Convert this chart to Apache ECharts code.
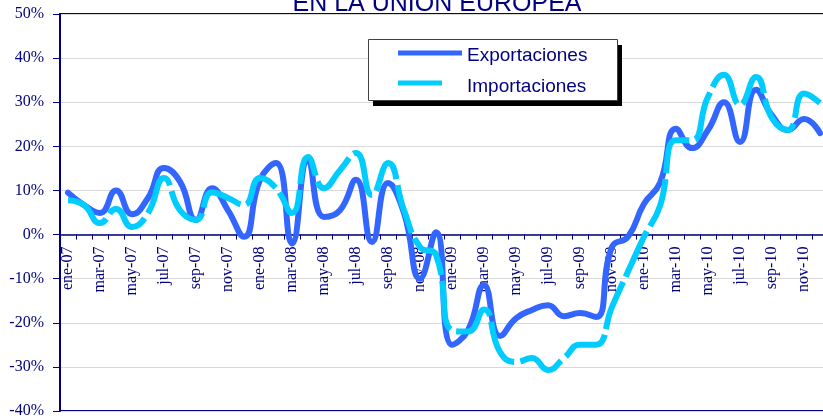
<!DOCTYPE html>
<html>
<head>
<meta charset="utf-8">
<script src="https://cdn.jsdelivr.net/npm/echarts@6/dist/echarts.min.js"></script>
<style>
html,body{margin:0;padding:0;background:#fff;}
#chart{width:823px;height:420px;}
</style>
</head>
<body>
<div id="chart"></div>
<script>
const categories = [
  'ene-07','feb-07','mar-07','abr-07','may-07','jun-07','jul-07','ago-07','sep-07','oct-07','nov-07','dic-07',
  'ene-08','feb-08','mar-08','abr-08','may-08','jun-08','jul-08','ago-08','sep-08','oct-08','nov-08','dic-08',
  'ene-09','feb-09','mar-09','abr-09','may-09','jun-09','jul-09','ago-09','sep-09','oct-09','nov-09','dic-09',
  'ene-10','feb-10','mar-10','abr-10','may-10','jun-10','jul-10','ago-10','sep-10','oct-10','nov-10','dic-10'
];
const exportaciones = [
  9.5, 6.7, 4.9, 10.0, 4.6, 8.3, 15.1, 12.0, 3.3, 10.5, 5.5, -0.5,
  12.4, 16.2, -2.0, 16.9, 4.0, 5.5, 12.4, -1.7, 11.7, 4.9, -10.0, 0.5,
  -25.0, -21.7, -11.5, -23.0, -19.0, -17.1, -16.0, -18.5, -17.8, -18.7, -2.8, -0.5,
  7.0, 11.7, 24.0, 19.6, 23.7, 30.0, 21.0, 32.8, 27.0, 23.7, 26.2, 23.0
];
const importaciones = [
  7.8, 6.7, 2.6, 5.8, 1.7, 4.9, 12.8, 5.5, 3.3, 9.6, 8.3, 6.7,
  12.8, 10.5, 4.9, 17.6, 10.5, 14.6, 18.5, 9.0, 16.2, 5.5, -2.8, -4.6,
  -21.7, -22.0, -17.0, -26.6, -28.9, -28.0, -30.7, -28.0, -25.0, -25.0, -16.4, -8.4,
  -0.5, 6.5, 21.4, 21.4, 31.2, 36.2, 29.4, 35.7, 26.4, 23.7, 32.0, 29.8
];
const yTicks = { min: -40, max: 50, interval: 10 };
const seriesNames = ['Exportaciones', 'Importaciones'];
const titleText = 'EN LA UNIÓN EUROPEA';

const navy = '#000080';
const blue = '#3366FF';
const cyan = '#00CCFF';

const gridTop = 14, gridHeight = 397;
const zeroOffset = -gridHeight * (0 - yTicks.min) / (yTicks.max - yTicks.min);

const chart = echarts.init(document.getElementById('chart'), null, {renderer: 'canvas'});
chart.setOption({
  animation: false,
  backgroundColor: '#fff',
  grid: {
    left: 60, top: gridTop, width: 768, height: gridHeight,
    outerBoundsMode: 'none', containLabel: false,
    show: true, borderColor: navy, borderWidth: 2, backgroundColor: 'transparent'
  },
  xAxis: {
    type: 'category',
    data: categories,
    boundaryGap: true,
    position: 'bottom',
    offset: zeroOffset,
    axisLine: { onZero: false, lineStyle: { color: navy, width: 1.5 } },
    axisTick: { show: true, inside: false, length: 5, interval: 0, lineStyle: { color: navy, width: 1 } },
    axisLabel: {
      interval: 1, rotate: 90, margin: 12, hideOverlap: false,
      fontFamily: 'Liberation Serif', fontSize: 16, color: navy
    },
    splitLine: { show: false }
  },
  yAxis: {
    type: 'value',
    min: yTicks.min, max: yTicks.max, interval: yTicks.interval,
    axisLine: { show: true, onZero: false, lineStyle: { color: navy, width: 2 } },
    axisTick: { show: true, length: 7, lineStyle: { color: navy, width: 1 } },
    axisLabel: {
      formatter: '{value}%', margin: 16,
      fontFamily: 'Liberation Serif', fontSize: 16, color: navy
    },
    splitLine: { show: true, lineStyle: { color: '#d9d9d9', width: 1 } }
  },
  series: [
    {
      name: seriesNames[0], type: 'line', data: exportaciones,
      smooth: 0.5, symbol: 'none',
      lineStyle: { color: blue, width: 6, cap: 'round', join: 'round' },
      z: 3
    },
    {
      name: seriesNames[1], type: 'line', data: importaciones,
      smooth: 0.5, symbol: 'none',
      lineStyle: { color: cyan, width: 6, type: [50, 6], cap: 'butt' },
      z: 4
    }
  ],
  graphic: [
    { type: 'text', style: {
        text: titleText, x: 437, y: 17, fill: navy,
        font: '25px "Liberation Sans"', textAlign: 'center', textVerticalAlign: 'bottom'
      }, z: 10 },
    { type: 'rect', shape: { x: 373, y: 45, width: 249, height: 61 }, style: { fill: '#000' }, z: 20 },
    { type: 'rect', shape: { x: 368.5, y: 39.5, width: 249, height: 61 }, style: { fill: '#fff', stroke: '#404040', lineWidth: 1 }, z: 21 },
    { type: 'line', shape: { x1: 398, y1: 53, x2: 462, y2: 53 }, style: { stroke: blue, lineWidth: 5 }, z: 22 },
    { type: 'line', shape: { x1: 398, y1: 83, x2: 442, y2: 83 }, style: { stroke: cyan, lineWidth: 5 }, z: 22 },
    { type: 'text', style: { text: seriesNames[0], x: 467, y: 56, fill: navy, font: '19px "Liberation Sans"', textVerticalAlign: 'middle' }, z: 22 },
    { type: 'text', style: { text: seriesNames[1], x: 467, y: 87, fill: navy, font: '19px "Liberation Sans"', textVerticalAlign: 'middle' }, z: 22 }
  ]
});
</script>
</body>
</html>
